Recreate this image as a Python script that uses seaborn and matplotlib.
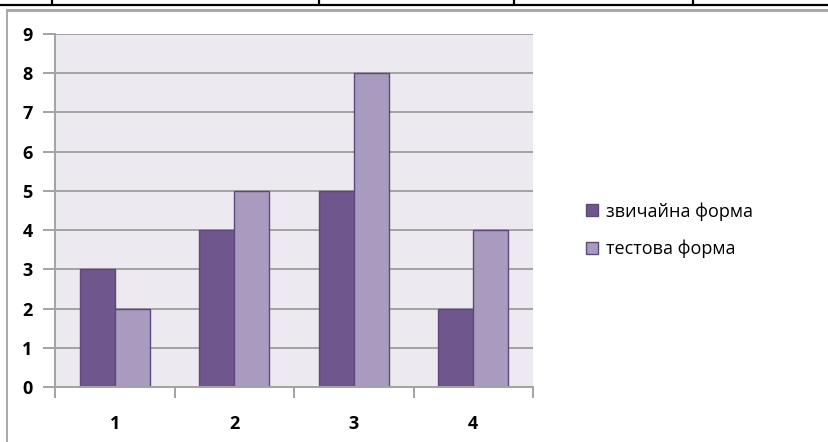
import matplotlib
matplotlib.use("Agg")
import matplotlib.pyplot as plt
from matplotlib.patches import Rectangle
from matplotlib.lines import Line2D
import seaborn as sns
import pandas as pd

# Data
categories = ["1", "2", "3", "4"]
series_names = ["звичайна форма", "тестова форма"]
regular_form = [3, 4, 5, 2]
test_form = [2, 5, 8, 4]
y_ticks = list(range(0, 10))

dark = "#6F568C"
light = "#A99ABF"
edge = "#5E4A7A"
grid_grey = "#A3A3A3"

df = pd.DataFrame({
    "cat": categories * 2,
    "val": regular_form + test_form,
    "series": [series_names[0]] * 4 + [series_names[1]] * 4,
})

sns.set_style("white")
plt.rcParams["font.family"] = ["Open Sans", "DejaVu Sans"]
plt.rcParams["text.color"] = "black"
plt.rcParams["xtick.labelcolor"] = "black"
plt.rcParams["ytick.labelcolor"] = "black"

fig = plt.figure(figsize=(8.29, 4.42), dpi=100)
W, H = 829, 442

# Surrounding page: table rule at the top and chart border
fig.add_artist(Line2D([0, 1], [1 - 5 / H, 1 - 5 / H], color="black", lw=1.6,
                      transform=fig.transFigure))
for xv in [52, 319, 514, 693]:
    fig.add_artist(Line2D([xv / W, xv / W], [1, 1 - 5 / H], color="black", lw=1.6,
                          transform=fig.transFigure))
fig.add_artist(Line2D([7 / W, 1], [1 - 10 / H, 1 - 10 / H], color="#A8A8A8", lw=2.2,
                      transform=fig.transFigure))
fig.add_artist(Line2D([7 / W, 7 / W], [0, 1 - 10 / H], color="#A8A8A8", lw=1.4,
                      transform=fig.transFigure))

ax = fig.add_axes([55 / W, 1 - 387 / H, (533 - 55) / W, (387 - 34) / H])
ax.set_facecolor("#ECEAF0")

sns.barplot(data=df, x="cat", y="val", hue="series", order=categories,
            hue_order=series_names, palette=[dark, light], width=0.585,
            edgecolor=edge, linewidth=1.0, saturation=1, ax=ax, legend=False)

ax.set_ylim(0, 9)
ax.set_xlim(-0.5, 3.5)
ax.set_yticks(y_ticks)
ax.set_yticklabels([str(v) for v in y_ticks], fontweight="bold", fontsize=13, color="black")
ax.yaxis.grid(True, color=grid_grey, lw=1.4)
ax.set_axisbelow(True)
ax.tick_params(axis="y", length=9, width=1.4, color=grid_grey, pad=7, direction="out", left=True)

ax.set_xticks(range(len(categories)))
ax.set_xticklabels(categories, fontweight="bold", fontsize=13, color="black")
ax.set_xticks([-0.5, 0.5, 1.5, 2.5, 3.5], minor=True)
ax.tick_params(axis="x", which="major", length=0, pad=20)
ax.tick_params(axis="x", which="minor", length=8, width=1.4, color=grid_grey,
               direction="out", bottom=True)
ax.set_xlabel("")
ax.set_ylabel("")

for side in ["top", "right"]:
    ax.spines[side].set_visible(False)
for side in ["left", "bottom"]:
    ax.spines[side].set_color(grid_grey)
    ax.spines[side].set_linewidth(1.4)

# Legend
handles = [
    Rectangle((0, 0), 1, 1, facecolor=dark, edgecolor=edge, lw=1.0),
    Rectangle((0, 0), 1, 1, facecolor=light, edgecolor=edge, lw=1.0),
]
fig.legend(handles, series_names, loc="center left",
           bbox_to_anchor=(570 / W, 1 - 230 / H), frameon=False,
           fontsize=13, handlelength=0.65, handleheight=0.65,
           handletextpad=0.45, labelspacing=1.05, labelcolor="black")

fig.savefig("out.png", dpi=100)
